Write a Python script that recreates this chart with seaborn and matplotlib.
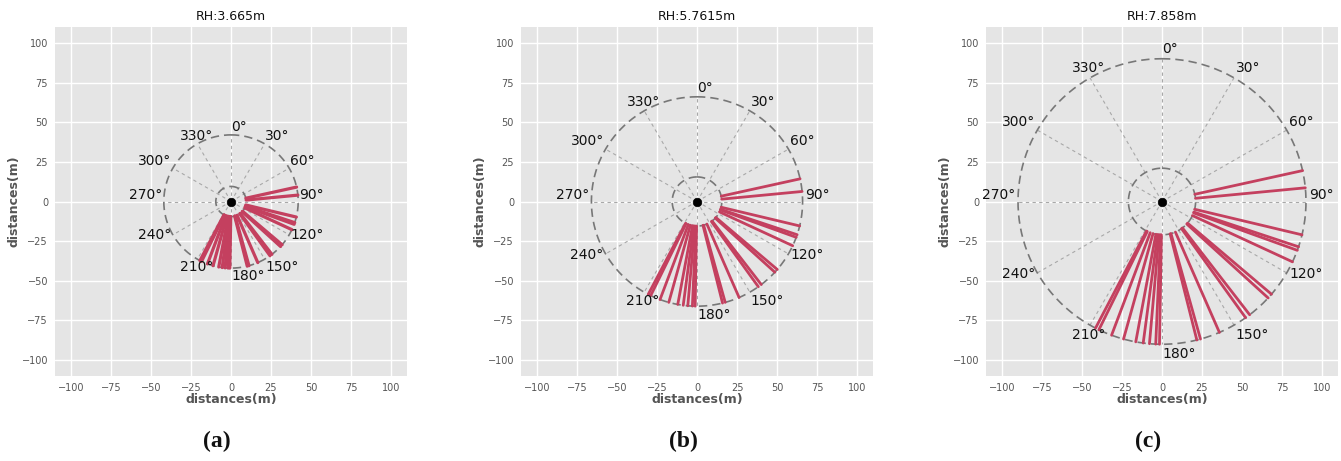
import numpy as np
import pandas as pd
import matplotlib
matplotlib.use("Agg")
import matplotlib.pyplot as plt
import seaborn as sns

# ---------------- data ----------------
rh_values = [3.665, 5.7615, 7.858]
outer_radius = [42, 66, 90]
inner_radius = [9.5, 15.5, 21]
panel_letters = ["a", "b", "c"]
# compass bearings (deg, clockwise from north) of the red rays
ray_angles = [77.5, 84.5, 103.5, 108.5, 110, 115, 130.5, 132.5, 142.5, 144.5,
              156.5, 164.5, 166, 181, 182.5, 185, 187.5, 190.5, 195.5, 200.5,
              206, 207.5]
label_angles = list(range(0, 360, 30))
ticks = [-100, -75, -50, -25, 0, 25, 50, 75, 100]

# ---------------- style ----------------
sns.set_theme(style="darkgrid")
plt.style.use("ggplot")
plt.rcParams["font.family"] = ["DejaVu Sans"]
plt.rcParams["axes.facecolor"] = "#E5E5E5"
plt.rcParams["axes.edgecolor"] = "#E5E5E5"

RED = "#C4405F"

fig = plt.figure(figsize=(13.41, 4.61), dpi=100)
lefts = [55, 521, 986]
W, H = 352, 349
top = 27
FW, FH = 1341, 461

for i in range(3):
    ax = fig.add_axes([lefts[i] / FW, (FH - top - H) / FH, W / FW, H / FH])
    R = outer_radius[i]
    r0 = inner_radius[i]

    # radial dashed guide lines
    for a in label_angles:
        t = np.deg2rad(a)
        ax.plot([0, R * np.sin(t)], [0, R * np.cos(t)], ls=(0, (3, 3)),
                color="#A8A8A8", lw=0.8, zorder=2)

    # circles
    tt = np.linspace(0, 2 * np.pi, 400)
    for rr in (R, r0):
        ax.plot(rr * np.sin(tt), rr * np.cos(tt), ls=(0, (5, 3)),
                color="#777777", lw=1.2, zorder=3)

    # rays via seaborn
    rows = []
    for k, a in enumerate(ray_angles):
        t = np.deg2rad(a)
        for rr in (r0, R):
            rows.append({"ray": k, "x": rr * np.sin(t), "y": rr * np.cos(t)})
    df = pd.DataFrame(rows)
    sns.lineplot(data=df, x="x", y="y", units="ray", estimator=None, sort=False,
                 color=RED, lw=2.0 if i else 2.3, ax=ax, zorder=4)

    # centre point
    sns.scatterplot(x=[0], y=[0], color="black", s=38, ax=ax, zorder=5,
                    edgecolor="black")

    # angle labels
    for a in label_angles:
        t = np.deg2rad(a)
        s, c = np.sin(t), np.cos(t)
        if s >= -1e-9:
            ha = "left"
        elif s > -0.6:
            ha = "center"
        else:
            ha = "right"
        if c > -1e-9 or abs(c) < 1e-9:
            va = "bottom"
        elif c > -0.6:
            va = "center"
        else:
            va = "top"
        rl = R * 1.02
        ax.text(rl * s, rl * c, f"{a}°", ha=ha, va=va, fontsize=10,
                color="#111111", zorder=6)

    ax.set_xlim(-110, 110)
    ax.set_ylim(-110, 110)
    ax.set_xticks(ticks)
    ax.set_yticks(ticks)
    ax.tick_params(labelsize=7, colors="#555555", length=3, width=0.8, pad=2)
    ax.set_xlabel("distances(m)", fontsize=9, fontweight="bold",
                  color="#555555", labelpad=0)
    ax.set_ylabel("distances(m)", fontsize=9, fontweight="bold",
                  color="#555555", labelpad=1)
    ax.set_title(f"RH:{rh_values[i]}m", fontsize=9, color="#111111", pad=5)
    ax.grid(True, color="white", lw=1.0)
    ax.set_axisbelow(True)
    for sp in ax.spines.values():
        sp.set_visible(False)

    cx = (lefts[i] + W / 2 - 14) / FW
    fig.text(cx, 20 / FH, f"({panel_letters[i]})", ha="center", va="center",
             fontsize=17, fontweight="bold", family=["Liberation Serif"],
             color="#111111")

fig.savefig("out.png", dpi=100)
